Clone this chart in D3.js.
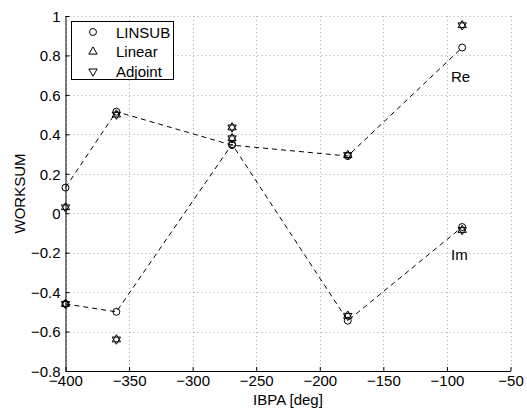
<!DOCTYPE html>
<html><head><meta charset="utf-8">
<script src="https://cdn.jsdelivr.net/npm/d3@7/dist/d3.min.js"></script>
<style>body{margin:0;background:#fff}svg{display:block}text{font-family:"Liberation Sans",Arial,sans-serif;}</style>
</head><body><svg id="c" width="527" height="412"></svg>
<script>
const ibpa = [-400, -360, -269, -178, -88];
const linsubRe = [0.13, 0.515, 0.345, 0.29, 0.84];
const linsubIm = [-0.46, -0.50, 0.35, -0.545, -0.07];
const linearRe = [0.03, 0.50, 0.38, 0.295, 0.953];
const linearIm = [-0.46, -0.64, 0.435, -0.52, -0.085];
const adjointRe = [0.03, 0.50, 0.38, 0.295, 0.953];
const adjointIm = [-0.46, -0.64, 0.435, -0.52, -0.085];
const xTicks = [-400, -350, -300, -250, -200, -150, -100, -50];
const yTicks = [-0.8, -0.6, -0.4, -0.2, 0, 0.2, 0.4, 0.6, 0.8, 1];
const legendLabels = ["LINSUB", "Linear", "Adjoint"];

const svg = d3.select("#c");
const L = 65.5, R = 510.5, T = 16, B = 371;
const x = d3.scaleLinear().domain([-400, -50]).range([L, R]);
const y = d3.scaleLinear().domain([-0.8, 1]).range([B, T]);

const fmt = v => (v < 0 ? "\u2212" : "") + String(Math.abs(v));

// grid
const g = svg.append("g");
g.selectAll(".gx").data(xTicks).enter().append("line")
  .attr("x1", d => Math.round(x(d)) + 0.5).attr("x2", d => Math.round(x(d)) + 0.5)
  .attr("y1", T).attr("y2", B)
  .attr("stroke", "#aaa").attr("stroke-width", 1).attr("stroke-dasharray", "1,3");
g.selectAll(".gy").data(yTicks).enter().append("line")
  .attr("y1", d => Math.round(y(d)) + 0.5).attr("y2", d => Math.round(y(d)) + 0.5)
  .attr("x1", L).attr("x2", R)
  .attr("stroke", "#aaa").attr("stroke-width", 1).attr("stroke-dasharray", "1,3");

// axes
const xAxis = d3.axisBottom(x).tickValues(xTicks).tickSizeInner(-4).tickSizeOuter(0).tickPadding(4).tickFormat(fmt);
const yAxis = d3.axisLeft(y).tickValues(yTicks).tickSizeInner(-4).tickSizeOuter(0).tickPadding(5).tickFormat(fmt);
const ax = svg.append("g").attr("transform", `translate(0,${B})`).call(xAxis);
const ay = svg.append("g").attr("transform", `translate(${L},0)`).call(yAxis);
[ax, ay].forEach(a => {
  a.attr("font-family", null).attr("font-size", null);
  a.select(".domain").attr("stroke", "#000").attr("stroke-width", 1);
  a.selectAll(".tick line").attr("stroke", "#000");
  a.selectAll("text").attr("fill", "#000").style("font-size", "15px").style("font-family", '"Liberation Sans",Arial,sans-serif');
});
ax.selectAll("text").attr("dy", "0.75em");
ay.selectAll("text").attr("dy", "0.35em");

// dashed lines
const line = d3.line().x(d => x(d[0])).y(d => y(d[1]));
[linsubRe, linsubIm].forEach(s => {
  svg.append("path").datum(ibpa.map((v, i) => [v, s[i]])).attr("d", line)
    .attr("fill", "none").attr("stroke", "#000").attr("stroke-width", 1).attr("stroke-dasharray", "5,4");
});

// markers
const circ = d3.symbol().type(d3.symbolCircle).size(38);
const triUp = d3.symbol().type(d3.symbolTriangle).size(30);
function draw(series, gen, rot) {
  series.forEach(s => {
    svg.append("g").selectAll("path").data(ibpa.map((v, i) => [v, s[i]])).enter().append("path")
      .attr("d", gen)
      .attr("transform", d => `translate(${x(d[0])},${y(d[1])}) rotate(${rot})`)
      .attr("fill", "none").attr("stroke", "#000").attr("stroke-width", 1);
  });
}
draw([linsubRe, linsubIm], circ, 0);
draw([linearRe, linearIm], triUp, 0);
draw([adjointRe, adjointIm], triUp, 180);

// annotations
svg.append("text").attr("x", 451).attr("y", 82).text("Re").style("font-size", "15px");
svg.append("text").attr("x", 451).attr("y", 260).text("Im").style("font-size", "15px");

// labels
svg.append("text").attr("x", (L + R) / 2).attr("y", 405).attr("text-anchor", "middle").style("font-size", "15px").text("IBPA [deg]");
svg.append("text").attr("transform", `translate(25,${(T + B) / 2}) rotate(-90)`).attr("text-anchor", "middle").style("font-size", "15px").text("WORKSUM");

// legend
const lg = svg.append("g");
lg.append("rect").attr("x", 71.5).attr("y", 21.5).attr("width", 102).attr("height", 58).attr("fill", "#fff").attr("stroke", "#000");
const gens = [[circ, 0], [triUp, 0], [triUp, 180]];
legendLabels.forEach((t, i) => {
  const yy = 32 + i * 19.7;
  lg.append("path").attr("d", gens[i][0]).attr("transform", `translate(93,${yy}) rotate(${gens[i][1]})`)
    .attr("fill", "none").attr("stroke", "#000");
  lg.append("text").attr("x", 116).attr("y", yy + 5.5).style("font-size", "15px").text(t);
});
</script></body></html>
